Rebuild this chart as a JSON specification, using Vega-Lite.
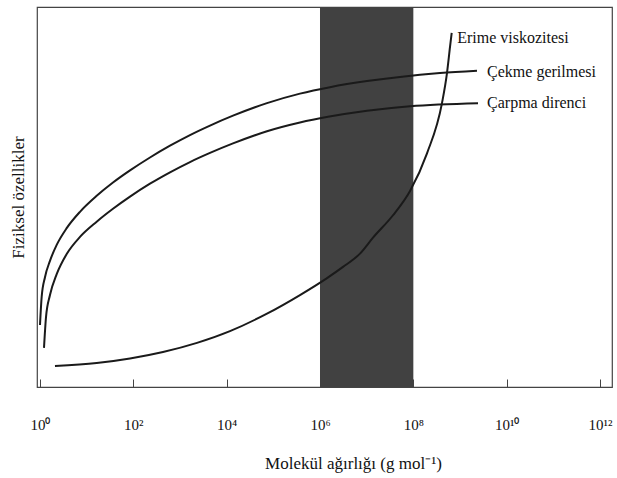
{
  "$schema": "https://vega.github.io/schema/vega-lite/v6.json",
  "width": 575,
  "height": 380,
  "autosize": {"type": "none"},
  "padding": {"left": 37, "top": 7, "right": 5, "bottom": 91},
  "background": "white",
  "config": {
    "view": {"stroke": "#444", "strokeWidth": 1.2},
    "font": "Liberation Serif"
  },
  "datasets": {
    "band": [{"lo": 6, "hi": 8}],
    "curves": [
      {"series": "Çekme gerilmesi", "logM": 0.0, "v": 16.3},
      {"series": "Çekme gerilmesi", "logM": 0.036, "v": 23.7},
      {"series": "Çekme gerilmesi", "logM": 0.107, "v": 28.9},
      {"series": "Çekme gerilmesi", "logM": 0.214, "v": 33.2},
      {"series": "Çekme gerilmesi", "logM": 0.358, "v": 37.4},
      {"series": "Çekme gerilmesi", "logM": 0.572, "v": 41.8},
      {"series": "Çekme gerilmesi", "logM": 0.857, "v": 46.1},
      {"series": "Çekme gerilmesi", "logM": 1.215, "v": 50.3},
      {"series": "Çekme gerilmesi", "logM": 1.564, "v": 53.8},
      {"series": "Çekme gerilmesi", "logM": 1.929, "v": 57.0},
      {"series": "Çekme gerilmesi", "logM": 2.357, "v": 60.4},
      {"series": "Çekme gerilmesi", "logM": 2.786, "v": 63.5},
      {"series": "Çekme gerilmesi", "logM": 3.214, "v": 66.3},
      {"series": "Çekme gerilmesi", "logM": 3.643, "v": 68.8},
      {"series": "Çekme gerilmesi", "logM": 4.136, "v": 71.4},
      {"series": "Çekme gerilmesi", "logM": 4.864, "v": 74.7},
      {"series": "Çekme gerilmesi", "logM": 5.571, "v": 77.2},
      {"series": "Çekme gerilmesi", "logM": 6.214, "v": 78.9},
      {"series": "Çekme gerilmesi", "logM": 7.007, "v": 80.5},
      {"series": "Çekme gerilmesi", "logM": 7.714, "v": 81.6},
      {"series": "Çekme gerilmesi", "logM": 8.571, "v": 82.6},
      {"series": "Çekme gerilmesi", "logM": 9.364, "v": 83.2},
      {"series": "Çarpma direnci", "logM": 0.086, "v": 10.3},
      {"series": "Çarpma direnci", "logM": 0.129, "v": 18.4},
      {"series": "Çarpma direnci", "logM": 0.214, "v": 24.2},
      {"series": "Çarpma direnci", "logM": 0.358, "v": 29.7},
      {"series": "Çarpma direnci", "logM": 0.572, "v": 35.0},
      {"series": "Çarpma direnci", "logM": 0.857, "v": 39.5},
      {"series": "Çarpma direnci", "logM": 1.215, "v": 43.5},
      {"series": "Çarpma direnci", "logM": 1.564, "v": 46.9},
      {"series": "Çarpma direnci", "logM": 1.929, "v": 50.1},
      {"series": "Çarpma direnci", "logM": 2.357, "v": 53.5},
      {"series": "Çarpma direnci", "logM": 2.786, "v": 56.5},
      {"series": "Çarpma direnci", "logM": 3.214, "v": 59.2},
      {"series": "Çarpma direnci", "logM": 3.643, "v": 61.6},
      {"series": "Çarpma direnci", "logM": 4.136, "v": 64.1},
      {"series": "Çarpma direnci", "logM": 4.864, "v": 67.3},
      {"series": "Çarpma direnci", "logM": 5.571, "v": 69.6},
      {"series": "Çarpma direnci", "logM": 6.171, "v": 71.1},
      {"series": "Çarpma direnci", "logM": 7.007, "v": 72.7},
      {"series": "Çarpma direnci", "logM": 7.929, "v": 73.9},
      {"series": "Çarpma direnci", "logM": 9.386, "v": 74.7},
      {"series": "Erime viskozitesi", "logM": 0.321, "v": 5.5},
      {"series": "Erime viskozitesi", "logM": 1.215, "v": 6.3},
      {"series": "Erime viskozitesi", "logM": 1.929, "v": 7.5},
      {"series": "Erime viskozitesi", "logM": 2.636, "v": 9.2},
      {"series": "Erime viskozitesi", "logM": 3.364, "v": 11.6},
      {"series": "Erime viskozitesi", "logM": 4.071, "v": 14.7},
      {"series": "Erime viskozitesi", "logM": 4.864, "v": 19.3},
      {"series": "Erime viskozitesi", "logM": 5.571, "v": 24.2},
      {"series": "Erime viskozitesi", "logM": 6.143, "v": 28.6},
      {"series": "Erime viskozitesi", "logM": 6.493, "v": 31.6},
      {"series": "Erime viskozitesi", "logM": 6.857, "v": 35.1},
      {"series": "Erime viskozitesi", "logM": 7.136, "v": 39.3},
      {"series": "Erime viskozitesi", "logM": 7.564, "v": 45.2},
      {"series": "Erime viskozitesi", "logM": 7.929, "v": 51.6},
      {"series": "Erime viskozitesi", "logM": 8.293, "v": 61.5},
      {"series": "Erime viskozitesi", "logM": 8.614, "v": 74.7},
      {"series": "Erime viskozitesi", "logM": 8.721, "v": 82.6},
      {"series": "Erime viskozitesi", "logM": 8.786, "v": 89.5},
      {"series": "Erime viskozitesi", "logM": 8.822, "v": 93.2}
    ],
    "labels": [
      {"label": "Erime viskozitesi", "logM": 8.94, "v": 91.8},
      {"label": "Çekme gerilmesi", "logM": 9.58, "v": 82.9},
      {"label": "Çarpma direnci", "logM": 9.58, "v": 74.7}
    ]
  },
  "layer": [
    {
      "data": {"name": "band"},
      "mark": {"type": "rect", "color": "#414141"},
      "encoding": {
        "x": {
          "field": "lo",
          "type": "quantitative",
          "scale": {"domain": [-0.064, 12.257], "nice": false, "zero": false},
          "axis": {
            "title": "Molekül ağırlığı (g mol⁻¹)",
            "values": [0, 2, 4, 6, 8, 10, 12],
            "labelExpr": "['10⁰','10²','10⁴','10⁶','10⁸','10¹⁰','10¹²'][round(datum.value/2)]",
            "grid": false,
            "domain": false,
            "ticks": true,
            "tickSize": -8,
            "tickColor": "#444",
            "labelPadding": 38,
            "labelFont": "Liberation Serif",
            "labelFontSize": 15,
            "labelColor": "#111",
            "labelFlush": false,
            "titleFont": "Liberation Serif",
            "titleFontSize": 17,
            "titleFontWeight": "normal",
            "titleColor": "#111",
            "titleX": 316,
            "titleY": 81,
            "titleBaseline": "alphabetic"
          }
        },
        "x2": {"field": "hi"}
      }
    },
    {
      "data": {"name": "curves"},
      "mark": {"type": "line", "interpolate": "monotone", "stroke": "#1a1a1a", "strokeWidth": 2},
      "encoding": {
        "x": {"field": "logM", "type": "quantitative"},
        "y": {
          "field": "v",
          "type": "quantitative",
          "scale": {"domain": [0, 100], "nice": false},
          "axis": {
            "title": "Fiziksel özellikler",
            "labels": false,
            "ticks": false,
            "domain": false,
            "grid": false,
            "titleFont": "Liberation Serif",
            "titleFontSize": 17,
            "titleFontWeight": "normal",
            "titleColor": "#111",
            "titlePadding": 10
          }
        },
        "detail": {"field": "series"}
      }
    },
    {
      "data": {"name": "labels"},
      "mark": {"type": "text", "align": "left", "baseline": "middle", "font": "Liberation Serif", "fontSize": 16, "color": "#111"},
      "encoding": {
        "x": {"field": "logM", "type": "quantitative"},
        "y": {"field": "v", "type": "quantitative"},
        "text": {"field": "label"}
      }
    }
  ]
}
